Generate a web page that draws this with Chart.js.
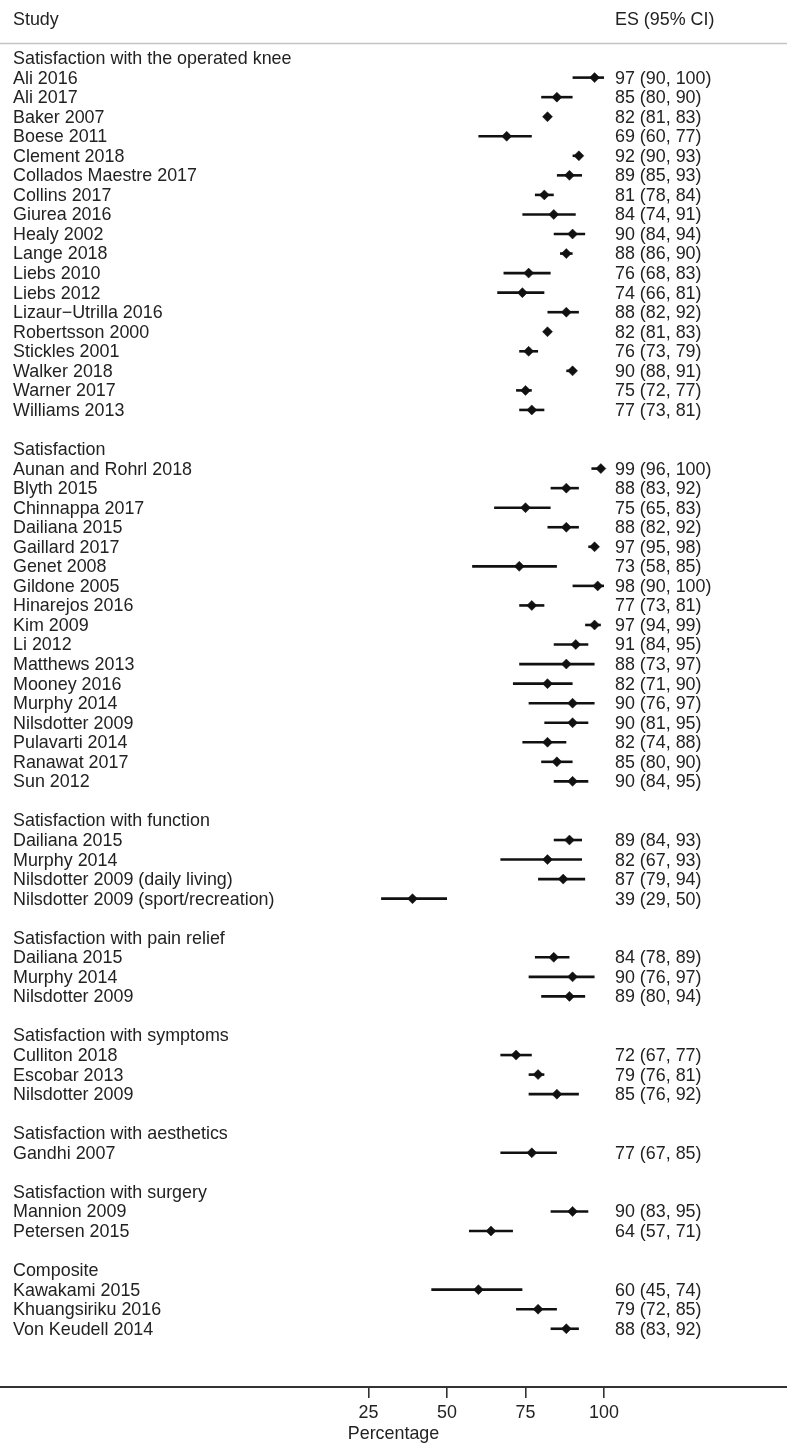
<!DOCTYPE html>
<html><head><meta charset="utf-8">
<script src="https://cdn.jsdelivr.net/npm/chart.js@4"></script>
<style>html,body{margin:0;padding:0;background:#fff}#wrap{width:787px;height:1443px;position:relative}</style>
</head><body><div id="wrap"><canvas id="c" width="787" height="1443"></canvas></div>
<script>
const headerLeft = 'Study';
const headerRight = 'ES (95% CI)';
const axisTitle = 'Percentage';
const xTicks = [25, 50, 75, 100];

const groupNames = [
  'Satisfaction with the operated knee',
  'Satisfaction',
  'Satisfaction with function',
  'Satisfaction with pain relief',
  'Satisfaction with symptoms',
  'Satisfaction with aesthetics',
  'Satisfaction with surgery',
  'Composite'
];

const studyNames = [
  'Ali 2016','Ali 2017','Baker 2007','Boese 2011','Clement 2018','Collados Maestre 2017','Collins 2017','Giurea 2016','Healy 2002','Lange 2018','Liebs 2010','Liebs 2012','Lizaur\u2212Utrilla 2016','Robertsson 2000','Stickles 2001','Walker 2018','Warner 2017','Williams 2013',
  'Aunan and Rohrl 2018','Blyth 2015','Chinnappa 2017','Dailiana 2015','Gaillard 2017','Genet 2008','Gildone 2005','Hinarejos 2016','Kim 2009','Li 2012','Matthews 2013','Mooney 2016','Murphy 2014','Nilsdotter 2009','Pulavarti 2014','Ranawat 2017','Sun 2012',
  'Dailiana 2015','Murphy 2014','Nilsdotter 2009 (daily living)','Nilsdotter 2009 (sport/recreation)',
  'Dailiana 2015','Murphy 2014','Nilsdotter 2009',
  'Culliton 2018','Escobar 2013','Nilsdotter 2009',
  'Gandhi 2007',
  'Mannion 2009','Petersen 2015',
  'Kawakami 2015','Khuangsiriku 2016','Von Keudell 2014'
];

const studyGroup = [
  0,0,0,0,0,0,0,0,0,0,0,0,0,0,0,0,0,0,
  1,1,1,1,1,1,1,1,1,1,1,1,1,1,1,1,1,
  2,2,2,2,
  3,3,3,
  4,4,4,
  5,
  6,6,
  7,7,7
];

const esValues = [
  97,85,82,69,92,89,81,84,90,88,76,74,88,82,76,90,75,77,
  99,88,75,88,97,73,98,77,97,91,88,82,90,90,82,85,90,
  89,82,87,39,
  84,90,89,
  72,79,85,
  77,
  90,64,
  60,79,88
];

const ciLow = [
  90,80,81,60,90,85,78,74,84,86,68,66,82,81,73,88,72,73,
  96,83,65,82,95,58,90,73,94,84,73,71,76,81,74,80,84,
  84,67,79,29,
  78,76,80,
  67,76,76,
  67,
  83,57,
  45,72,83
];

const ciHigh = [
  100,90,83,77,93,93,84,91,94,90,83,81,92,83,79,91,77,81,
  100,92,83,92,98,85,100,81,99,95,97,90,97,95,88,90,95,
  93,93,94,50,
  89,97,94,
  77,81,92,
  85,
  95,71,
  74,85,92
];

// Row layout: group header, its studies, blank row between groups
const rows = [];
let r = 0;
groupNames.forEach((g, gi) => {
  if (gi > 0) r++;
  rows.push({ type: 'group', text: g, row: r });
  r++;
  studyNames.forEach((s, i) => {
    if (studyGroup[i] === gi) {
      rows.push({ type: 'study', text: s, i: i, row: r });
      r++;
    }
  });
});
const studyRows = rows.filter(d => d.type === 'study');

const ciDatasets = studyRows.map(d => ({
  type: 'scatter',
  showLine: true,
  data: [{ x: ciLow[d.i], y: d.row }, { x: ciHigh[d.i], y: d.row }],
  borderColor: '#111',
  borderWidth: 2.6,
  pointRadius: 0,
  borderCapStyle: 'butt'
}));

const diamondDataset = {
  type: 'scatter',
  data: studyRows.map(d => ({ x: esValues[d.i], y: d.row })),
  pointStyle: 'rectRot',
  pointRadius: 5,
  backgroundColor: '#111',
  borderColor: '#111',
  borderWidth: 0.5
};

const FONT = '"Liberation Sans", Arial, Helvetica, sans-serif';
const FSIZE = 17.9;

const textPlugin = {
  id: 'forestText',
  afterDraw(chart) {
    const { ctx, chartArea, scales } = chart;
    const y = scales.y;
    ctx.save();
    ctx.font = FSIZE + 'px ' + FONT;
    ctx.fillStyle = '#222';
    ctx.textBaseline = 'middle';
    ctx.textAlign = 'left';
    const xl = chartArea.left + 13;
    const xr = chartArea.left + 615;
    ctx.fillText(headerLeft, xl, y.getPixelForValue(-2) + 1);
    ctx.fillText(headerRight, xr, y.getPixelForValue(-2) + 1);
    ctx.strokeStyle = '#c4c4c4';
    ctx.lineWidth = 1.3;
    const ly = Math.round(y.getPixelForValue(-0.77)) + 0.5;
    ctx.beginPath();
    ctx.moveTo(chartArea.left, ly);
    ctx.lineTo(chartArea.right, ly);
    ctx.stroke();
    rows.forEach(d => {
      const py = y.getPixelForValue(d.row) + 1;
      ctx.fillText(d.text, xl, py);
      if (d.type === 'study') {
        const i = d.i;
        ctx.fillText(esValues[i] + ' (' + ciLow[i] + ', ' + ciHigh[i] + ')', xr, py);
      }
    });
    ctx.restore();
  }
};

new Chart(document.getElementById('c').getContext('2d'), {
  type: 'scatter',
  data: { datasets: [...ciDatasets, diamondDataset] },
  options: {
    responsive: false,
    animation: false,
    layout: { padding: 0, autoPadding: false },
    plugins: { legend: { display: false }, tooltip: { enabled: false } },
    scales: {
      x: {
        type: 'linear',
        min: -92.4,
        max: 158.3,
        position: 'bottom',
        afterBuildTicks: s => { s.ticks = xTicks.map(v => ({ value: v })); },
        afterFit: s => { s.height = 56; },
        ticks: {
          font: { family: FONT, size: FSIZE },
          color: '#222',
          padding: 4,
          maxRotation: 0,
          autoSkip: false
        },
        grid: { drawOnChartArea: false, drawTicks: true, tickLength: 11, color: '#333', lineWidth: 1.6 },
        border: { display: true, color: '#333', width: 2 },
        title: { display: true, text: axisTitle, font: { family: FONT, size: FSIZE }, color: '#222', padding: { top: 0, bottom: -2 } }
      },
      y: { type: 'linear', reverse: true, min: -2.97, max: 67.98, display: false }
    }
  },
  plugins: [textPlugin]
});
</script>
</body></html>
